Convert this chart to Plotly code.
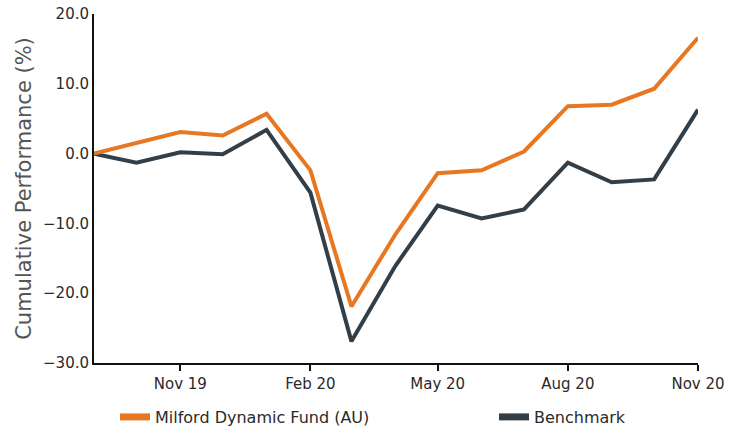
import plotly.graph_objects as go

months = ["2019-09-01", "2019-10-01", "2019-11-01", "2019-12-01", "2020-01-01",
          "2020-02-01", "2020-03-01", "2020-04-01", "2020-05-01", "2020-06-01",
          "2020-07-01", "2020-08-01", "2020-09-01", "2020-10-01", "2020-11-01"]
fund = [0.0, 1.5, 3.1, 2.6, 5.7, -2.4, -21.9, -11.6, -2.8, -2.4, 0.3, 6.8, 7.0, 9.3, 16.6]
bench = [0.0, -1.3, 0.2, -0.1, 3.4, -5.6, -26.9, -16.1, -7.45, -9.3, -8.0, -1.3, -4.1, -3.7, 6.3]
tick_dates = ["2019-11-01", "2020-02-01", "2020-05-01", "2020-08-01", "2020-11-01"]
tick_labels = ["Nov 19", "Feb 20", "May 20", "Aug 20", "Nov 20"]
y_ticks = [20, 10, 0, -10, -20, -30]

ORANGE = "#E87722"
DARK = "#333F48"
FONT = "DejaVu Sans"

W, H = 745, 427

fig = go.Figure()
fig.add_trace(go.Scatter(x=months, y=bench, mode="lines", name="Benchmark",
                         line=dict(color=DARK, width=4), showlegend=False))
fig.add_trace(go.Scatter(x=months, y=fund, mode="lines", name="Milford Dynamic Fund (AU)",
                         line=dict(color=ORANGE, width=4), showlegend=False))
# legend-only entries
fig.add_trace(go.Scatter(x=[None], y=[None], mode="lines", name="Milford Dynamic Fund (AU)",
                         line=dict(color=ORANGE, width=7), legend="legend"))
fig.add_trace(go.Scatter(x=[None], y=[None], mode="lines", name="Benchmark",
                         line=dict(color=DARK, width=7), legend="legend2"))

leg_common = dict(orientation="h", xanchor="left", yanchor="middle",
                  xref="container", yref="container",
                  font=dict(family=FONT, size=16, color="#2a2a2a"),
                  itemwidth=30, bgcolor="rgba(0,0,0,0)")

fig.update_layout(
    width=W, height=H,
    margin=dict(l=94, r=47, t=14, b=64, autoexpand=False),
    paper_bgcolor="white", plot_bgcolor="white",
    font=dict(family=FONT, size=15, color="#2a2a2a"),
    showlegend=True,
    legend=dict(x=115 / W, y=1 - 417 / H, **leg_common),
    legend2=dict(x=494 / W, y=1 - 417 / H, **leg_common),
    xaxis=dict(type="date", range=["2019-09-01", "2020-11-01"],
               tickvals=tick_dates, ticktext=tick_labels,
               showline=True, linecolor="#111111", linewidth=2,
               ticks="outside", ticklen=6, tickwidth=2, tickcolor="#111111",
               showgrid=False, zeroline=False, automargin=False,
               ticklabeloverflow="allow",
               tickfont=dict(family=FONT, size=15, color="#2a2a2a")),
    yaxis=dict(range=[-30, 20], tickvals=y_ticks, tickformat=".1f",
               showline=True, linecolor="#111111", linewidth=2,
               ticks="", showgrid=False, zeroline=False, automargin=False,
               ticklabeloverflow="allow",
               tickfont=dict(family=FONT, size=15, color="#2a2a2a"),
               title=dict(text="Cumulative Performance (%)", standoff=6,
                          font=dict(family=FONT, size=21, color="#555555"))),
)

# remove the default 8px page margin so the figure fills the window exactly
fig.write_html("out.html", config={"displayModeBar": False},
               post_script="document.body.style.margin='0';")
